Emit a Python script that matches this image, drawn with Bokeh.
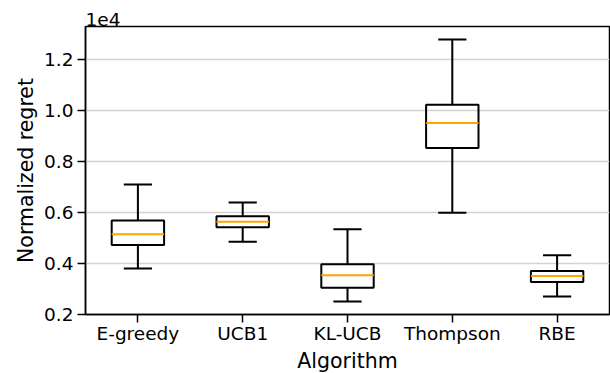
from bokeh.plotting import figure
from bokeh.models import ColumnDataSource, FixedTicker, PrintfTickFormatter, Title
from bokeh.transform import dodge
from bokeh.embed import file_html
from bokeh.resources import INLINE

algorithms = ["E-greedy", "UCB1", "KL-UCB", "Thompson", "RBE"]
whisker_low = [0.380, 0.485, 0.251, 0.598, 0.270]
q1 = [0.472, 0.542, 0.305, 0.852, 0.327]
median = [0.514, 0.563, 0.354, 0.950, 0.351]
q3 = [0.568, 0.585, 0.397, 1.022, 0.370]
whisker_high = [0.709, 0.639, 0.534, 1.277, 0.432]
y_ticks = [0.2, 0.4, 0.6, 0.8, 1.0, 1.2]

src = ColumnDataSource(dict(alg=algorithms, lo=whisker_low, q1=q1, med=median,
                            q3=q3, hi=whisker_high))

FONT = "DejaVu Sans"
p = figure(x_range=algorithms, y_range=(0.1997, 1.3283), width=610, height=373,
           output_backend="svg", toolbar_location=None,
           min_border_left=85, min_border_right=1, min_border_top=26, min_border_bottom=59)

p.xgrid.grid_line_color = None
p.ygrid.grid_line_color = "#d3d3d3"
p.ygrid.grid_line_width = 1.5
p.outline_line_color = "black"
p.outline_line_width = 1.5
p.outline_line_alpha = 1.0

# whiskers
p.segment(x0="alg", x1="alg", y0="q3", y1="hi", source=src, line_color="black", line_width=2)
p.segment(x0="alg", x1="alg", y0="lo", y1="q1", source=src, line_color="black", line_width=2)
# caps
for col in ["hi", "lo"]:
    p.segment(x0=dodge("alg", -0.125, range=p.x_range), x1=dodge("alg", 0.125, range=p.x_range),
              y0=col, y1=col, source=src, line_color="black", line_width=2, line_cap="square")
# boxes
p.vbar(x="alg", width=0.5, bottom="q1", top="q3", source=src, fill_color=None,
       line_color="black", line_width=2)
# medians
p.segment(x0=dodge("alg", -0.25, range=p.x_range), x1=dodge("alg", 0.25, range=p.x_range),
          y0="med", y1="med", source=src, line_color="#ffa500", line_width=2)

for ax in (p.xaxis[0], p.yaxis[0]):
    ax.major_tick_out = 8
    ax.major_tick_in = 0
    ax.minor_tick_out = 0
    ax.minor_tick_in = 0
    ax.major_tick_line_width = 1.5
    ax.major_tick_line_color = "black"
    ax.axis_line_color = "black"
    ax.axis_line_width = 1.5
    ax.major_label_text_font = FONT
    ax.major_label_text_font_size = "18.5px"
    ax.major_label_text_color = "black"
    ax.axis_label_text_font = FONT
    ax.axis_label_text_font_size = "20.5px"
    ax.axis_label_text_font_style = "normal"
    ax.axis_label_text_color = "black"

p.yaxis.ticker = FixedTicker(ticks=y_ticks)
p.yaxis.formatter = PrintfTickFormatter(format="%.1f")
p.yaxis.major_label_standoff = 4
p.yaxis.axis_label = "Normalized regret"
p.yaxis.axis_label_standoff = 3
p.xaxis.major_label_standoff = 0

# exponent marker above the frame
top_title = Title(text="1e4", align="left", standoff=2, text_font=FONT,
                  text_font_size="18.5px", text_font_style="normal", text_color="black")
p.add_layout(top_title, "above")

# x-axis title below the tick labels
x_title = Title(text="Algorithm", align="center", standoff=0, text_font=FONT,
                text_font_size="20.5px", text_font_style="normal", text_color="black")
p.add_layout(x_title, "below")

open("out.html", "w").write(file_html(p, INLINE))
